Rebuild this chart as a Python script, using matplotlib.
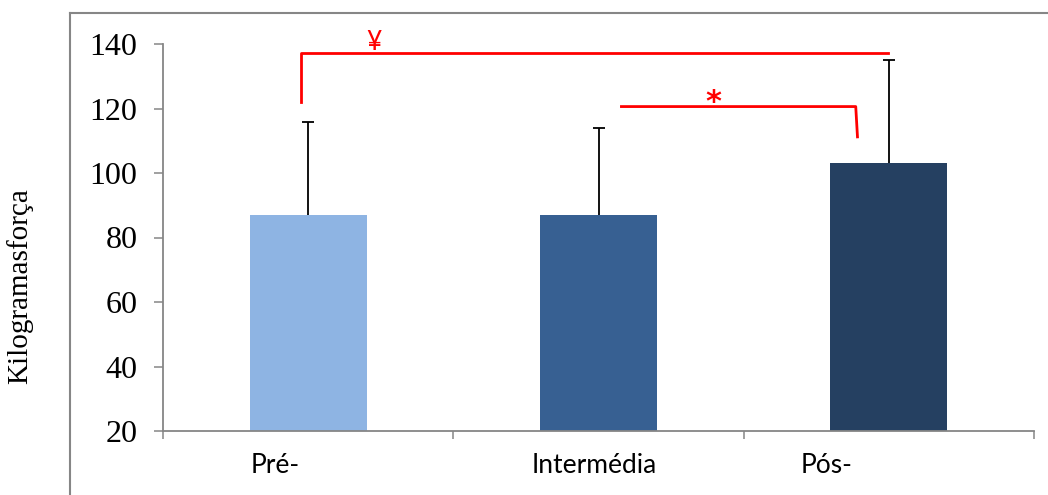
import numpy as np
import matplotlib
matplotlib.use("Agg")
import matplotlib.pyplot as plt
from matplotlib.transforms import ScaledTranslation

# data
groups = ["Pré-", "Intermédia", "Pós-"]
means = [87.0, 87.0, 103.1]
sd_upper = [28.7, 27.0, 31.9]
bar_colors = ["#8EB4E3", "#376092", "#254061"]

# significance brackets: x/y paths in data units, plus their marker text
br1_x = [-0.024, -0.024, 1.997]
br1_y = [122.0, 137.3, 137.3]
br1_mark = ("\u00a5", 0.228, 140.4)
br2_x = [1.079, 1.886, 1.892]
br2_y = [120.6, 120.6, 111.2]
br2_mark = ("*", 1.397, 122.0)

fig = plt.figure(figsize=(10.48, 4.95), dpi=100)
ax = fig.add_axes([163 / 1048, 1 - 431 / 495, 871 / 1048, 387 / 495])

x = np.arange(len(groups))
ax.bar(x, means, width=0.403, color=bar_colors, zorder=2)
_, caps, _ = ax.errorbar(x, means, yerr=[np.zeros(len(means)), sd_upper], fmt="none",
                         ecolor="black", elinewidth=1.3, capsize=4.3, capthick=1.3,
                         zorder=3)
caps[0].set_visible(False)  # only the upper whisker has a cap

ax.set_xlim(-0.5, len(groups) - 0.5)
ax.set_ylim(20, 140)
ax.set_yticks(np.arange(20, 141, 20))

spine_c = "#868686"
for side in ("top", "right"):
    ax.spines[side].set_visible(False)
for side in ("left", "bottom"):
    ax.spines[side].set_color(spine_c)
    ax.spines[side].set_linewidth(1.3)

ax.tick_params(axis="y", colors=spine_c, length=6.5, width=1.1, pad=12,
               labelcolor="black")
for lab in ax.get_yticklabels():
    lab.set_fontfamily("Liberation Serif")
    lab.set_fontsize(23)

# category labels at centres, boundary ticks as minor ticks
ax.set_xticks(x)
ax.set_xticklabels(groups, fontfamily="Lato", fontsize=19)
ax.set_xticks(np.arange(-0.5, len(groups)), minor=True)
ax.tick_params(axis="x", which="major", length=0, pad=16)
ax.tick_params(axis="x", which="minor", length=6, width=1.1, colors=spine_c)
label_shift_px = [-33, -4, -62]
for lab, dx in zip(ax.get_xticklabels(), label_shift_px):
    lab.set_transform(lab.get_transform() + ScaledTranslation(dx / 100, 0, fig.dpi_scale_trans))

ax.set_ylabel("Kilogramasforça", fontfamily="Liberation Serif", fontsize=21)
ax.yaxis.set_label_coords(-0.149, 0.375)

# red significance brackets
for bx, by, (txt, tx, ty) in ((br1_x, br1_y, br1_mark), (br2_x, br2_y, br2_mark)):
    ax.plot(bx, by, color="red", lw=2, clip_on=False, zorder=4)
    if txt == "*":
        ax.text(tx, ty, txt, color="red", fontsize=22, fontweight="bold",
                ha="center", va="center", clip_on=False)
    else:
        ax.text(tx, ty, txt, color="red", fontsize=19, fontfamily="Lato",
                ha="center", va="center", clip_on=False)

# outer chart frame (cut off at the right and bottom in the reference)
fig.add_artist(plt.Line2D([70 / 1048, 1], [1 - 13 / 495] * 2, color=spine_c, lw=1.5))
fig.add_artist(plt.Line2D([70 / 1048] * 2, [0, 1 - 13 / 495], color=spine_c, lw=1.5))

fig.savefig("out.png", dpi=100)
